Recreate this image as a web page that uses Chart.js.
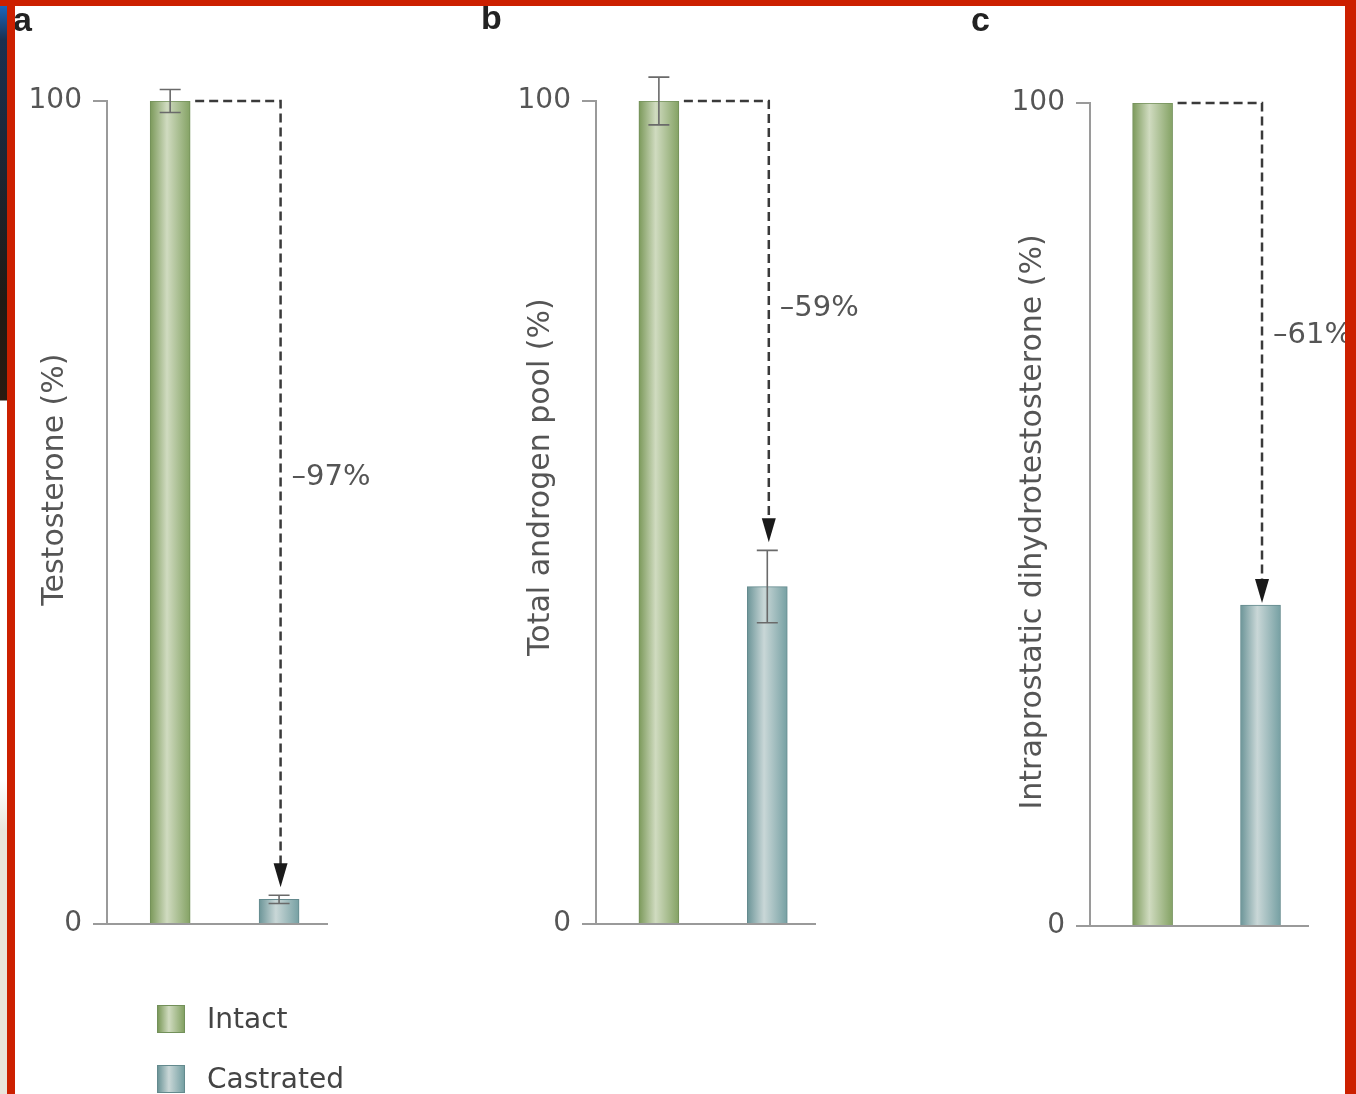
<!DOCTYPE html>
<html>
<head>
<meta charset="utf-8">
<script src="https://cdn.jsdelivr.net/npm/chart.js@4.4.1/dist/chart.umd.min.js"></script>
<style>
  html, body { margin: 0; padding: 0; background: #fff; }
  body { width: 1356px; height: 1094px; position: relative; overflow: hidden; font-family: "DejaVu Sans", sans-serif; }
  canvas { position: absolute; top: 0; }
  .letter { position: absolute; font: bold 34px "Liberation Sans", Arial, sans-serif; color: #222; }
  .legend { position: absolute; left: 157px; font-size: 28px; color: #444; }
  .legend .row { position: absolute; left: 0; width: 220px; height: 30px; }
  .legend .sw { position: absolute; left: 0; top: 0; width: 28px; height: 28px; box-sizing: border-box; }
  .legend .tx { position: absolute; left: 50px; top: -3px; white-space: nowrap; }
  .frame-top { position: absolute; left: 0; top: 0; width: 1356px; height: 6px; background: #cc2000; z-index: 5; }
  .frame-left { position: absolute; left: 7px; top: 0; width: 8px; height: 1094px; background: #cc2000; z-index: 5; }
  .frame-right { position: absolute; left: 1345px; top: 0; width: 11px; height: 1094px; background: #cc2000; z-index: 5; }
  .edge-left { position: absolute; left: 0; top: 0; width: 7px; height: 1094px; z-index: 4;
    background: linear-gradient(to bottom, #1a6fd0 0px, #1a3050 40px, #201a14 300px, #2a1a10 400px, #ffffff 401px, #ffffff 780px, #e9e5dc 830px, #e9e5dc 1094px); }
</style>
</head>
<body>
<div class="edge-left"></div>
<div class="frame-top"></div>
<div class="frame-left"></div>
<div class="frame-right"></div>

<canvas id="pa" width="460" height="1094" style="left:0px"></canvas>
<canvas id="pb" width="480" height="1094" style="left:460px"></canvas>
<canvas id="pc" width="416" height="1094" style="left:940px"></canvas>

<div class="letter" style="left:13px; top:0px;">a</div>
<div class="letter" style="left:481px; top:-2px;">b</div>
<div class="letter" style="left:971px; top:0px;">c</div>

<div class="legend" style="top:1005px;">
  <div class="row" style="top:0px;">
    <div class="sw" id="swIntact"></div><div class="tx" id="lgIntact"></div>
  </div>
  <div class="row" style="top:60px;">
    <div class="sw" id="swCastrated"></div><div class="tx" id="lgCastrated"></div>
  </div>
</div>

<script>
// Groups shown in every panel
const categories = ['Intact', 'Castrated'];

// Panel values, % of the intact level
const testosterone = [100, 3];
const androgenPool = [100, 41];
const dihydrotestosterone = [100, 39];

// Standard errors drawn as whiskers (0 = none)
const testosteroneErr = [1.4, 0.5];
const androgenPoolErr = [2.9, 4.4];
const dihydrotestosteroneErr = [0, 0];

// Y axis tick values and axis titles
const yTicks = [0, 100];
const axisTitles = ['Testosterone (%)', 'Total androgen pool (%)', 'Intraprostatic dihydrotestosterone (%)'];

// Bar gradient stops: edge, highlight, edge
const groupColors = {
  Intact: ['#7b995a', '#d0dbc0', '#84a264'],
  Castrated: ['#6c9598', '#c9d7d7', '#76a0a3']
};
const groupBorders = { Intact: '#73905a', Castrated: '#648a8e' };

const BAR_W = 40;
const TEXT = '#555';
const AXIS = '#9a9a9a';

function barFill(ctx) {
  const cat = categories[ctx.dataIndex];
  const stops = groupColors[cat];
  const xs = ctx.chart.scales.x;
  if (!xs || xs.width === undefined) return stops[0];
  const cx = xs.getPixelForValue(ctx.dataIndex);
  const g = ctx.chart.ctx.createLinearGradient(cx - BAR_W / 2, 0, cx + BAR_W / 2, 0);
  g.addColorStop(0, stops[0]);
  g.addColorStop(0.42, stops[1]);
  g.addColorStop(1, stops[2]);
  return g;
}

// Error whiskers, the dashed drop arrow with its percentage label, and the axis title
const annotate = {
  id: 'annotate',
  afterDatasetsDraw(chart, args, opts) {
    const { ctx, chartArea } = chart;
    const xs = chart.scales.x, ys = chart.scales.y;
    const vals = chart.data.datasets[0].data.map(d => d.y);
    const errs = opts.errors;
    ctx.save();
    // whiskers
    ctx.strokeStyle = '#6a6a6a';
    ctx.lineWidth = 1.6;
    vals.forEach((v, i) => {
      const e = errs[i];
      if (!e) return;
      const x = xs.getPixelForValue(i);
      const yT = ys.getPixelForValue(v + e), yB = ys.getPixelForValue(v - e);
      ctx.beginPath();
      ctx.moveTo(x, yT); ctx.lineTo(x, yB);
      ctx.moveTo(x - 10.5, yT); ctx.lineTo(x + 10.5, yT);
      ctx.moveTo(x - 10.5, yB); ctx.lineTo(x + 10.5, yB);
      ctx.stroke();
    });
    // dashed connector from the intact bar top to the castrated bar
    const x0 = xs.getPixelForValue(0) + BAR_W / 2 + 5;
    const x1 = xs.getPixelForValue(1) + 1.5;
    const yTop = ys.getPixelForValue(vals[0]);
    const capTop = ys.getPixelForValue(vals[1] + errs[1]);
    const tipY = capTop - (errs[1] ? 8 : 2);
    const headH = 24, headW = 7;
    ctx.strokeStyle = '#3a3a3a';
    ctx.lineWidth = 2.5;
    ctx.setLineDash([9, 5]);
    ctx.beginPath();
    ctx.moveTo(x0, yTop); ctx.lineTo(x1, yTop); ctx.lineTo(x1, tipY - headH + 2);
    ctx.stroke();
    ctx.setLineDash([]);
    ctx.fillStyle = '#1a1a1a';
    ctx.beginPath();
    ctx.moveTo(x1 - headW, tipY - headH);
    ctx.lineTo(x1 + headW, tipY - headH);
    ctx.lineTo(x1, tipY);
    ctx.closePath();
    ctx.fill();
    // change label
    const change = Math.round(vals[1] - vals[0]);
    ctx.fillStyle = TEXT;
    ctx.font = '29px "DejaVu Sans"';
    ctx.textAlign = 'left';
    ctx.textBaseline = 'middle';
    ctx.fillText('\u2013' + Math.abs(change) + '%', x1 + 11, ys.getPixelForValue(opts.labelAt));
    // rotated y axis title
    ctx.translate(chartArea.left - opts.titleGap, ys.getPixelForValue(opts.titleAt));
    ctx.rotate(-Math.PI / 2);
    ctx.textAlign = 'center';
    ctx.font = '30px "DejaVu Sans"';
    ctx.fillText(opts.title, 0, 0);
    ctx.restore();
  }
};

function makePanel(id, values, errors, title, geom) {
  const data = values.map((v, i) => ({ x: i, y: v }));
  return new Chart(document.getElementById(id), {
    type: 'bar',
    data: {
      labels: categories,
      datasets: [{
        data,
        backgroundColor: barFill,
        borderColor: categories.map(c => groupBorders[c]),
        borderWidth: 1,
        borderSkipped: 'bottom',
        barThickness: BAR_W
      }]
    },
    plugins: [annotate],
    options: {
      responsive: false,
      animation: false,
      events: [],
      layout: { padding: geom.padding },
      plugins: {
        legend: { display: false },
        tooltip: { enabled: false },
        annotate: { errors, title, labelAt: geom.labelAt, titleAt: geom.titleAt, titleGap: geom.titleGap }
      },
      scales: {
        x: {
          type: 'linear',
          offset: false,
          min: -0.58,
          max: 1.44,
          ticks: { display: false },
          grid: { display: false, offset: false },
          border: { display: true, color: AXIS, width: 2 }
        },
        y: {
          min: 0,
          max: 100,
          afterBuildTicks: s => { s.ticks = yTicks.map(v => ({ value: v })); },
          afterFit: s => { s.width = 84; },
          ticks: {
            color: TEXT,
            font: { family: 'DejaVu Sans', size: 28 },
            padding: 11
          },
          grid: { drawOnChartArea: false, drawTicks: true, tickLength: 14, color: AXIS, lineWidth: 2 },
          border: { display: true, color: AXIS, width: 2 }
        }
      }
    }
  });
}

makePanel('pa', testosterone, testosteroneErr, axisTitles[0], {
  padding: { left: 23, right: 133, top: 101, bottom: 162 },
  labelAt: 54.2, titleAt: 54.0, titleGap: 52
});
makePanel('pb', androgenPool, androgenPoolErr, axisTitles[1], {
  padding: { left: 52, right: 125, top: 101, bottom: 162 },
  labelAt: 74.8, titleAt: 54.3, titleGap: 55
});
makePanel('pc', dihydrotestosterone, dihydrotestosteroneErr, axisTitles[2], {
  padding: { left: 66, right: 48, top: 103, bottom: 160 },
  labelAt: 71.8, titleAt: 49.1, titleGap: 57
});

// Legend entries
['Intact', 'Castrated'].forEach(c => {
  const s = groupColors[c];
  const sw = document.getElementById('sw' + c);
  sw.style.background = `linear-gradient(to right, ${s[0]} 0%, ${s[1]} 42%, ${s[2]} 100%)`;
  sw.style.border = '1px solid ' + groupBorders[c];
  document.getElementById('lg' + c).textContent = c;
});
</script>
</body>
</html>
